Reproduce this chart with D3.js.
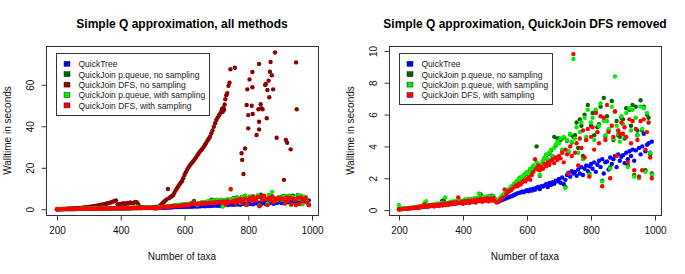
<!DOCTYPE html>
<html><head><meta charset="utf-8">
<script src="https://cdn.jsdelivr.net/npm/d3@7"></script>
<style>
html,body{margin:0;padding:0;background:#fff;}
svg{display:block;font-family:"Liberation Sans",Arial,Helvetica,sans-serif;}
</style></head><body>
<svg id="chart" width="685" height="274"></svg>
<script>
// ---------------- DATA ----------------
const taxa = [
200,205,210,215,220,225,230,235,240,245,
250,255,260,265,270,275,280,285,290,295,
300,305,310,315,320,325,330,335,340,345,
350,355,360,365,370,375,380,385,390,395,
400,405,410,415,420,425,430,435,440,445,
450,455,460,465,470,475,480,485,490,495,
500,505,510,515,520,525,530,535,540,545,
550,555,560,565,570,575,580,585,590,595,
600,605,610,615,620,625,630,635,640,645,
650,655,660,665,670,675,680,685,690,695,
700,705,710,715,720,725,730,735,740,745,
750,755,760,765,770,775,780,785,790,795,
800,805,810,815,820,825,830,835,840,845,
850,855,860,865,870,875,880,885,890,895,
900,905,910,915,920,925,930,935,940,945,
950,955,960,965,970,975,980,985,990];

const quickTree = [
0.05,0.06,0.07,0.08,0.09,0.10,0.11,0.12,0.13,0.14,
0.15,0.16,0.17,0.18,0.20,0.21,0.22,0.23,0.24,0.25,
0.26,0.27,0.28,0.29,0.30,0.31,0.33,0.58,0.35,0.36,
0.37,0.38,0.39,0.40,0.41,0.42,0.43,0.44,0.45,0.46,
0.47,0.48,0.49,0.50,0.51,0.52,0.53,0.55,0.56,0.57,
0.58,0.60,0.70,0.65,0.72,0.80,0.85,0.75,0.90,0.82,
0.70,0.62,0.55,0.58,0.62,0.66,0.70,0.74,0.78,0.82,
0.86,0.90,0.95,1.00,1.05,1.08,1.10,1.15,1.12,1.20,
1.25,1.18,1.30,1.22,1.35,1.28,1.40,1.45,1.32,1.50,
1.48,1.55,1.62,1.45,1.70,1.58,1.75,1.65,1.85,1.80,
1.95,1.72,2.05,1.62,1.90,2.20,2.35,2.10,2.45,2.30,
2.40,2.15,2.55,2.30,2.70,2.20,2.60,2.80,2.45,2.75,
2.90,2.60,3.00,2.40,2.85,3.10,2.70,3.20,2.30,3.00,
3.05,2.55,3.30,2.90,3.20,3.40,2.70,3.50,3.10,3.35,
3.45,2.95,3.60,3.20,3.70,3.40,3.80,3.10,3.75,4.70,
3.90,3.50,4.00,4.80,3.70,4.10,4.20,3.60,4.30];

const pqueueNoSampling = [
0.06,0.07,0.08,0.09,0.10,0.11,0.12,0.13,0.14,0.15,
0.16,0.17,0.18,0.19,0.21,0.22,0.24,0.25,0.26,0.27,
0.28,0.29,0.30,0.31,0.32,0.33,0.34,0.36,0.62,0.38,
0.39,0.40,0.41,0.42,0.43,0.44,0.46,0.47,0.48,0.49,
0.50,0.51,0.52,0.53,0.54,0.56,0.57,0.58,0.59,0.60,
0.62,1.00,0.64,0.65,0.67,0.68,0.69,0.71,0.72,0.73,
0.68,0.58,0.62,0.72,0.82,0.92,1.02,1.12,1.22,1.32,
1.42,1.52,1.62,1.72,1.82,1.95,2.05,2.00,2.15,2.25,
2.35,2.25,2.55,2.45,2.75,2.65,4.00,2.55,2.15,2.85,
3.05,3.25,3.45,3.15,3.55,3.75,3.35,4.60,4.05,4.50,
4.50,4.40,3.75,4.55,1.45,4.35,3.65,4.75,4.25,4.60,
4.70,5.50,3.90,5.70,5.30,3.40,6.00,4.40,6.60,2.30,
5.30,6.10,4.70,6.20,5.20,5.40,6.50,1.85,7.05,4.60,
5.90,5.00,2.70,6.85,4.40,6.20,5.60,4.70,4.60,5.80,
5.70,4.50,6.40,2.80,6.30,5.30,6.60,2.20,6.50,5.00,
2.10,6.90,5.00,6.50,2.50,6.00,5.80,3.50,2.30];

const pqueueSampling = [
0.32,0.08,0.09,0.10,0.11,0.12,0.13,0.14,0.15,0.16,
0.17,0.18,0.19,0.20,0.22,0.30,0.45,0.55,0.28,0.30,
0.31,0.36,0.30,0.40,0.35,0.42,0.38,0.46,0.41,0.80,
0.45,0.40,0.52,0.44,0.55,0.48,0.58,0.50,0.62,0.53,
0.54,0.66,0.56,0.70,0.58,0.72,0.61,0.74,0.63,0.78,
1.05,0.80,0.67,0.82,0.70,0.86,0.72,0.84,0.75,0.88,
0.70,0.60,0.65,0.75,0.85,0.95,1.05,1.15,1.25,1.35,
1.45,1.55,1.65,1.75,1.85,2.00,1.90,2.10,2.20,2.30,
2.40,2.30,2.60,2.50,2.80,2.70,3.00,2.60,2.20,2.90,
3.10,3.30,3.50,3.20,3.60,3.80,3.40,3.90,4.10,4.30,
4.20,4.50,3.80,4.60,1.40,4.40,3.70,4.80,4.30,9.50,
4.50,5.20,3.60,4.90,5.50,3.20,5.80,4.60,6.30,2.20,
5.50,5.80,4.40,6.30,4.90,5.30,6.70,1.80,5.60,4.70,
5.60,5.10,2.60,6.50,4.50,8.40,5.30,4.80,4.30,5.90,
5.40,4.60,6.10,2.70,6.40,5.00,6.30,2.10,5.80,4.70,
2.00,6.50,5.10,6.40,2.40,6.10,5.50,3.60,2.20];

const dfsSampling = [
0.04,0.05,0.06,0.07,0.08,0.09,0.10,0.11,0.12,0.13,
0.14,0.20,0.13,0.22,0.18,0.24,0.35,0.28,0.20,0.30,
0.25,0.32,0.22,0.30,0.34,0.26,0.36,0.29,0.40,0.31,
0.42,0.33,0.45,0.36,0.48,0.38,0.50,0.80,0.44,0.52,
0.40,0.55,0.46,0.58,0.44,0.60,0.50,0.62,0.48,0.66,
0.56,0.70,0.52,0.68,0.58,0.74,0.55,0.72,0.60,0.76,
0.55,0.48,0.50,0.60,0.70,0.80,1.30,1.00,1.10,1.20,
1.25,1.35,1.45,1.55,1.50,1.65,1.60,1.75,1.85,1.80,
1.95,2.05,1.90,2.20,2.40,3.20,2.60,2.80,2.50,2.70,
2.60,2.90,2.75,3.00,2.85,3.10,3.20,2.95,3.30,3.15,
3.40,3.25,3.60,3.00,3.80,3.50,2.30,4.00,3.40,9.80,
3.60,4.20,2.80,4.50,3.90,5.00,3.30,4.40,5.10,2.10,
4.60,5.20,3.80,6.10,4.90,4.20,5.90,1.50,5.80,4.40,
6.60,4.90,2.00,5.30,4.60,6.20,3.40,5.00,4.80,5.50,
4.80,5.20,4.60,3.00,5.70,4.20,5.60,2.50,5.10,4.40,
2.10,5.60,2.50,5.70,3.80,4.90,5.50,3.30,2.00];

// QuickJoin DFS, no sampling (own taxa list)
const dfsNoSamplingTaxa = [
200,205,210,215,220,225,230,235,240,245,
250,255,260,265,270,275,280,285,290,295,
300,305,310,315,320,325,330,335,340,345,
350,355,360,365,370,375,380,385,390,395,
400,405,410,415,420,425,430,435,440,445,
450,455,460,465,470,475,480,485,490,495,
500,505,510,515,
520,524,528,532,536,540,544,548,552,556,560,564,568,572,576,580,584,588,592,596,
600,604,608,612,616,620,624,628,632,636,640,644,648,652,656,660,664,668,672,676,
680,684,688,692,696,700,704,708,712,716,718,720,722,724,726,728,731,734,738,741,744,
758,779,781,785,790,795,797,800,800,804,811,813,813,814,826,832,834,834,834,839,
841,845,853,855,858,860,864,866,868,870,874,878,884,889,912,918,922,933,950,952];
const dfsNoSamplingTime = [
0.05,0.08,0.10,0.13,0.16,0.20,0.24,0.28,0.32,0.37,
0.42,0.47,0.52,0.58,0.64,0.70,0.78,0.86,0.95,1.05,
1.15,1.25,1.35,1.45,1.60,1.75,1.90,2.05,2.20,2.35,
2.50,2.70,2.90,3.10,3.40,3.70,3.90,4.30,2.40,2.50,
2.60,2.70,2.90,2.40,3.10,2.80,3.30,3.00,2.90,3.50,
3.40,2.50,1.00,0.95,0.90,0.85,0.80,0.80,0.80,0.85,
0.90,1.00,1.10,1.30,
1.2,1.8,2.4,3.0,3.6,4.2,4.8,9.8,5.4,6.0,6.3,6.8,7.8,9.0,10.0,11.0,12.0,12.8,13.5,15.0,
16.5,17.8,19.0,20.0,21.0,21.8,22.6,23.3,24.2,25.0,26.0,26.8,27.8,28.4,29.2,30.0,31.0,32.0,33.0,34.0,
35.0,36.5,38.0,39.8,41.5,43.0,44.2,45.2,46.2,47.5,48.5,47.0,49.0,48.0,50.5,53.0,55.0,56.0,59.5,61.0,67.5,
68.2,27.0,23.8,17.0,29.3,50.3,57.8,45.4,39.0,62.6,49.9,66.2,58.8,45.9,35.8,48.2,70.0,42.2,38.5,50.6,
48.7,48.2,59.9,60.4,43.9,57.5,62.0,54.0,66.3,71.0,64.6,57.8,75.6,34.5,14.2,33.4,32.1,28.9,70.8,48.2];

const xTicks = [200, 400, 600, 800, 1000];
const yTicksLeft = [0, 20, 40, 60];
const yTicksRight = [0, 2, 4, 6, 8, 10];

const names = {
  qt: "QuickTree",
  pqn: "QuickJoin p.queue, no sampling",
  dfsn: "QuickJoin DFS, no sampling",
  pqs: "QuickJoin p.queue, with sampling",
  dfss: "QuickJoin DFS, with sampling"
};
const colors = { qt: "#0000ff", pqn: "#006400", dfsn: "#8b0000", pqs: "#00ee00", dfss: "#ff0000" };

const titles = ["Simple Q approximation, all methods", "Simple Q approximation, QuickJoin DFS removed"];
const xLabel = "Number of taxa";
const yLabel = "Walltime in seconds";

// ---------------- DRAW ----------------
const svg = d3.select("#chart");
const FONT = '"Liberation Sans",Arial,Helvetica,sans-serif';

function series(key, xs, ys) { return { key, pts: xs.map((x, i) => [x, ys[i]]) }; }

function panel(cfg) {
  const { box, xDomain, yDomain, yTicks, title, list, legendSize } = cfg;
  const x = d3.scaleLinear().domain(xDomain).range([box.x0, box.x1]);
  const y = d3.scaleLinear().domain(yDomain).range([box.y1, box.y0]);
  const g = svg.append("g");

  // title
  g.append("text").attr("x", (box.x0 + box.x1) / 2).attr("y", 28)
    .attr("text-anchor", "middle").attr("font-weight", "bold").attr("font-size", 12)
    .attr("fill", "#000").text(title);

  // points
  list.forEach(s => {
    g.append("g").selectAll("circle").data(s.pts).join("circle")
      .attr("cx", d => x(d[0])).attr("cy", d => y(d[1])).attr("r", 2.2)
      .attr("fill", colors[s.key]);
  });

  // box
  g.append("rect").attr("x", box.x0 + 0.5).attr("y", box.y0 + 0.5)
    .attr("width", box.x1 - box.x0).attr("height", box.y1 - box.y0)
    .attr("fill", "none").attr("stroke", "#333").attr("stroke-width", 1);

  // x axis
  const xa = d3.axisBottom(x).tickValues(xTicks).tickSize(5).tickPadding(6).tickFormat(d3.format("d"));
  const gx = g.append("g").attr("transform", `translate(0,${box.y1 + 0.5})`).call(xa);
  gx.select(".domain").remove();
  gx.selectAll("line").attr("stroke", "#333");
  gx.selectAll("text").attr("font-size", 10).attr("font-family", FONT).attr("fill", "#111").attr("dy", "0.71em");

  // y axis (labels rotated, R style)
  const ya = d3.axisLeft(y).tickValues(yTicks).tickSize(5).tickFormat(d3.format("d"));
  const gy = g.append("g").attr("transform", `translate(${box.x0 + 0.5},0)`).call(ya);
  gy.select(".domain").remove();
  gy.selectAll("line").attr("stroke", "#333");
  gy.selectAll("text").attr("font-size", 10).attr("font-family", FONT).attr("fill", "#111")
    .attr("x", null).attr("dy", null).attr("text-anchor", "middle")
    .attr("transform", "translate(-12.5,0) rotate(-90)");

  // axis titles
  g.append("text").attr("x", (box.x0 + box.x1) / 2).attr("y", box.y1 + 44.5)
    .attr("text-anchor", "middle").attr("font-size", 10).attr("fill", "#111").text(xLabel);
  g.append("text").attr("transform", `translate(${box.x0 - 35.5},${(box.y0 + box.y1) / 2}) rotate(-90)`)
    .attr("text-anchor", "middle").attr("font-size", 10).attr("fill", "#111").text(yLabel);

  // legend
  const lx = box.x0 + 10.5, ly = box.y0 + 7.5;
  const entries = cfg.legend;
  const lg = g.append("g");
  lg.append("rect").attr("x", lx).attr("y", ly).attr("width", legendSize[0]).attr("height", legendSize[1])
    .attr("fill", "#fff").attr("stroke", "#333").attr("stroke-width", 1);
  entries.forEach((k, i) => {
    const cy = ly + 10.3 + i * 10.4;
    lg.append("rect").attr("x", lx + 7.5).attr("y", cy - 2.5).attr("width", 6).attr("height", 5)
      .attr("fill", colors[k]).attr("stroke", "#222").attr("stroke-width", 0.5);
    lg.append("text").attr("x", lx + 22).attr("y", cy + 3.3).attr("font-size", 8.5).attr("fill", "#222").text(names[k]);
  });
}

panel({
  box: { x0: 46, x1: 318, y0: 46, y1: 215 },
  xDomain: [165.5, 1018.8], yDomain: [-2.75, 78.7], yTicks: yTicksLeft, title: titles[0],
  list: [series("qt", taxa, quickTree), series("pqn", taxa, pqueueNoSampling),
         series("dfsn", dfsNoSamplingTaxa, dfsNoSamplingTime),
         series("pqs", taxa, pqueueSampling), series("dfss", taxa, dfsSampling)],
  legend: ["qt", "pqn", "dfsn", "pqs", "dfss"], legendSize: [153, 62]
});
panel({
  box: { x0: 389, x1: 661, y0: 46, y1: 215 },
  xDomain: [168.75, 1018.75], yDomain: [-0.31, 10.31], yTicks: yTicksRight, title: titles[1],
  list: [series("qt", taxa, quickTree), series("pqn", taxa, pqueueNoSampling),
         series("pqs", taxa, pqueueSampling), series("dfss", taxa, dfsSampling)],
  legend: ["qt", "pqn", "pqs", "dfss"], legendSize: [153, 51]
});
</script>
</body></html>
